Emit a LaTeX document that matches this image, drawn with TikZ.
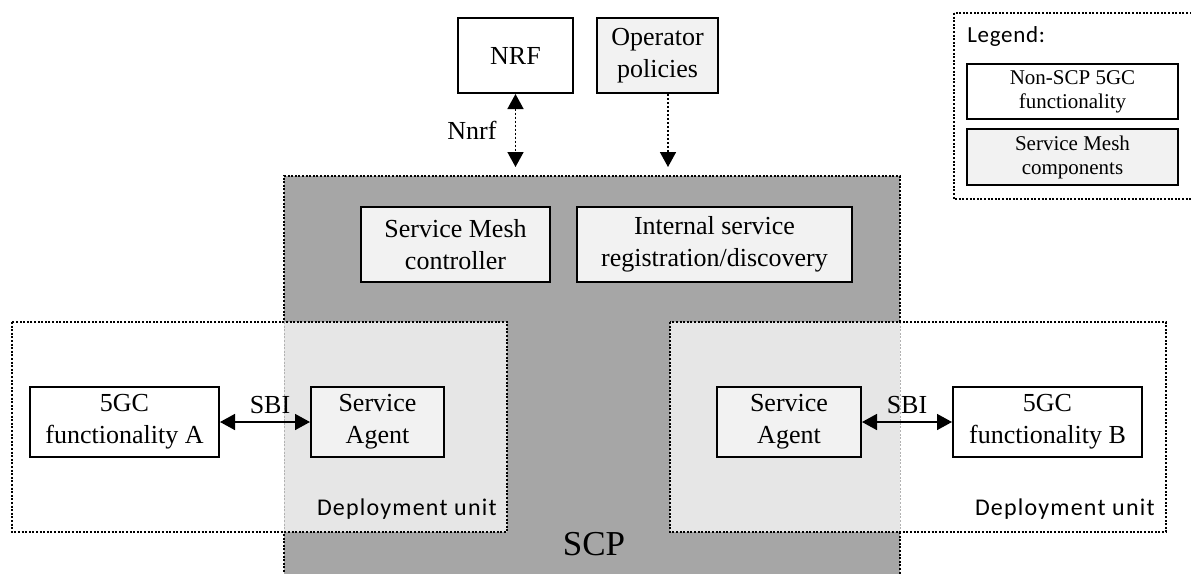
\documentclass[tikz,border=0pt]{standalone}
\usepackage{fontspec}
\setmainfont{Liberation Serif}
\newfontfamily\calib{Carlito}
\usetikzlibrary{arrows.meta}
\definecolor{scpgray}{HTML}{A6A6A6}
\definecolor{boxfill}{HTML}{F2F2F2}
\definecolor{overlapfill}{HTML}{E6E6E6}
\begin{document}
\begin{tikzpicture}[x=0.5pt,y=-0.5pt,
  box/.style={draw, line width=1pt, align=center, inner sep=0pt, fill=white,
    font=\fontsize{13}{16}\selectfont},
  meshbox/.style={box, fill=boxfill},
  legbox/.style={draw, line width=0.9pt, align=center, inner sep=0pt, fill=white,
    font=\fontsize{10.5}{12}\selectfont, minimum width=105.5pt},
  dotborder/.style={line width=0.6pt, dash pattern=on 1pt off 0.8pt},
  faintborder/.style={line width=0.5pt, dash pattern=on 1pt off 0.8pt, draw=black!30},
  dotarrow/.style={line width=0.8pt, dash pattern=on 1.2pt off 0.8pt},
  tiphead/.style={-{Triangle[length=7.5pt,width=8pt]}},
  bothheads/.style={{Triangle[length=7.5pt,width=8pt]}-{Triangle[length=7.5pt,width=8pt]}},
  lbl/.style={inner sep=0pt, anchor=base, font=\fontsize{13}{16}\selectfont},
  dulbl/.style={inner sep=0pt, anchor=base east, font=\calib\fontsize{12}{14}\selectfont\addfontfeatures{LetterSpace=5}},
]
\useasboundingbox (0,0) rectangle (1191,574);
\clip (0,0) rectangle (1191,574);

% SCP region
\fill[scpgray] (284,176) rectangle (900,590);
\draw[dotborder] (284,590) -- (284,176) -- (900,176) -- (900,590);
\node[inner sep=0pt, anchor=base, font=\fontsize{17.5}{20}\selectfont] (scp) at (594,555) {SCP};

% Deployment units
\fill[white] (12,322) rectangle (507,532);
\fill[overlapfill] (284,322) rectangle (507,532);
\draw[faintborder] (284,322) -- (284,532);
\draw[dotborder] (12,322) rectangle (507,532);
\node[dulbl] (duL) at (497,515) {Deployment unit};

\fill[white] (670,322) rectangle (1166,532);
\fill[overlapfill] (670,322) rectangle (900,532);
\draw[faintborder] (900,322) -- (900,532);
\draw[dotborder] (670,322) rectangle (1166,532);
\node[dulbl] (duR) at (1155,515) {Deployment unit};

% top boxes
\node[box, minimum width=57.5pt, minimum height=37.5pt] (nrf) at (515.5,55.5) {NRF};
\node[meshbox, minimum width=60.5pt, minimum height=37.5pt] (op) at (657.5,55.5) {Operator\\policies};
\coordinate (nrfend) at (nrf.south |- 0,167);
\coordinate (opstart) at ([xshift=5.25pt]op.south);
\coordinate (opend) at (opstart |- 0,167);
\draw[dotarrow, bothheads] (nrf.south) -- (nrfend);
\draw[dotarrow, tiphead] (opstart) -- (opend);
\node[lbl] (nnrf) at (472,139) {Nnrf};

% SCP inner boxes
\node[meshbox, minimum width=94.5pt, minimum height=37.5pt] (smc) at (455.5,244.5) {Service Mesh\\controller};
\node[meshbox, minimum width=137.5pt, minimum height=37.5pt] (isr) at (714.5,244.5) {Internal service\\registration/discovery};

% lower boxes
\node[box, minimum width=94.5pt, minimum height=35pt] (gcA) at (124.5,422) {5GC\\functionality A};
\node[meshbox, minimum width=66.5pt, minimum height=35pt] (saL) at (377.5,422) {Service\\Agent};
\node[meshbox, minimum width=72pt, minimum height=35pt] (saR) at (789,422) {Service\\Agent};
\node[box, minimum width=94.5pt, minimum height=35pt] (gcB) at (1047.5,422) {5GC\\functionality B};

\draw[line width=0.8pt, bothheads] (gcA.east) -- (saL.west);
\draw[line width=0.8pt, bothheads] (saR.east) -- (gcB.west);
\node[lbl] (sbiL) at (270,413) {SBI};
\node[lbl] (sbiR) at (907,413) {SBI};

% legend
\draw[dotborder] (954,13) rectangle (1200,199);
\node[inner sep=0pt, anchor=base west, font=\calib\fontsize{11.5}{13}\selectfont\addfontfeatures{LetterSpace=3}] (leg) at (967,42) {Legend:};
\node[legbox, minimum height=27.5pt] (lnon) at (1072.5,91.5) {Non-SCP 5GC\\functionality};
\node[legbox, fill=boxfill, minimum height=28pt] (lsm) at (1072.5,157) {Service Mesh\\components};
\end{tikzpicture}
\end{document}
